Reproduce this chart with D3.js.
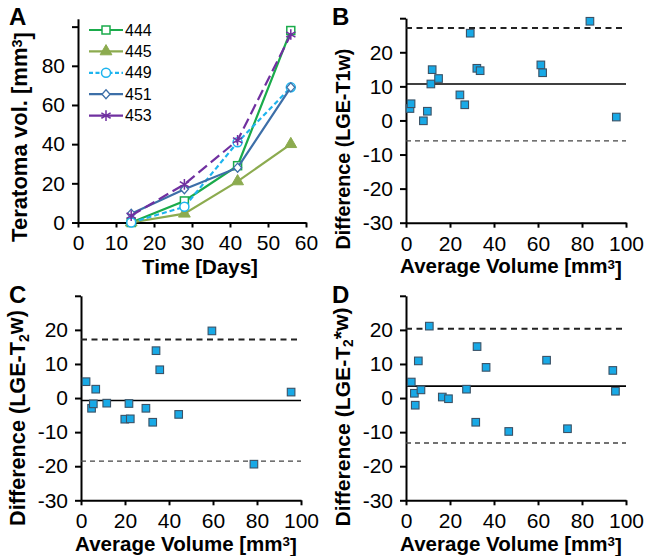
<!DOCTYPE html>
<html>
<head>
<meta charset="utf-8">
<script src="https://cdn.jsdelivr.net/npm/d3@7"></script>
<style>
  body { margin: 0; background: #fff; }
  svg { font-family: "Liberation Sans", Arial, sans-serif; }
  .axis path, .axis line { stroke: #000; stroke-width: 2; }
  .axis text { font-size: 21px; fill: #000; }
  .title { font-size: 20px; font-weight: bold; }
  .panel { font-size: 24px; font-weight: bold; }
</style>
</head>
<body>
<script>
"use strict";

// panel A: teratoma growth, days vs volume (mm3)
var days = [14, 28, 42, 56];
var mice = ["444", "445", "449", "451", "453"];
var vol444 = [0, 11, 29, 98];
var vol445 = [0, 4.5, 21, 40];
var vol449 = [0, 8, 41, 69];
var vol451 = [4.5, 17, 28, 69];
var vol453 = [3.5, 19.5, 42, 96];

// panel B: LGE - T1w
var avgB  = [1.8, 2.3, 7.9, 9.7, 11.3, 11.9, 14.8, 24.5, 26.7, 29.2, 32.2, 33.7, 61.3, 62.1, 83.6, 95.6];
var diffB = [3.5, 4.9, -0.1, 2.7, 10.7, 14.9, 12.3, 7.5, 4.6, 25.6, 15.3, 14.6, 16.3, 14.0, 29.1, 1.0];
var limB  = [10.7, 27.1, -6.0];   // mean, upper, lower

// panel C: LGE - T2w
var avgC  = [2.3, 4.8, 5.6, 6.7, 11.7, 19.9, 21.8, 22.4, 29.5, 32.6, 34.1, 35.8, 44.4, 59.5, 78.6, 95.5];
var diffC = [4.8, -3.0, -1.7, 2.6, -1.5, -6.2, -1.6, -6.1, -3.0, -7.1, 13.9, 8.3, -4.8, 19.7, -19.4, 1.75];
var limC  = [-0.7, 17.2, -18.5];

// panel D: LGE - T2*w
var avgD  = [2.4, 3.8, 4.2, 5.6, 6.8, 10.6, 16.5, 19.3, 27.5, 31.7, 32.3, 36.4, 46.7, 63.9, 73.4, 94.0, 95.2];
var diffD = [4.7, 1.4, -2.1, 10.9, 2.4, 21.1, 0.3, -0.2, 2.6, -7.1, 15.1, 9.0, -9.8, 11.1, -9.0, 8.1, 2.0];
var limD  = [3.5, 20.3, -13.2];

var timeTicks = [0, 10, 20, 30, 40, 50, 60];
var volTicks = [0, 20, 40, 60, 80, 100];
var avgTicks = [0, 20, 40, 60, 80, 100];
var diffTicks = [-30, -20, -10, 0, 10, 20, 30];

var svg = d3.select("body").append("svg")
    .attr("width", 646)
    .attr("height", 556);

// shrink/grow a title so it spans the same length as in the figure
function fit(text, len) {
  var w = text.node().getComputedTextLength();
  var fs = parseFloat(getComputedStyle(text.node()).fontSize);
  text.style("font-size", (fs * len / w) + "px");
}

// title with a raised or lowered small piece, e.g. mm^3 or T_2
function richTitle(parts) {
  var t = svg.append("text").attr("class", "title").attr("text-anchor", "middle");
  parts.forEach(function(p) {
    var ts = t.append("tspan").text(p[0]);
    if (p[1]) ts.attr("dy", p[1] + "em").style("font-size", "0.65em");
    else if (p[2]) ts.attr("dy", p[2] + "em");
  });
  return t;
}

// ---------- panel A ----------
var xA = d3.scaleLinear().domain([0, 60]).range([78, 306]);
var yA = d3.scaleLinear().domain([0, 104]).range([222.5, 18.8]);

svg.append("g")
    .attr("class", "axis")
    .attr("transform", "translate(0," + yA(0) + ")")
    .call(d3.axisBottom(xA).tickValues(timeTicks).tickSize(5).tickSizeOuter(0).tickPadding(8));

svg.append("g")
    .attr("class", "axis")
    .attr("transform", "translate(" + xA(0) + ",0)")
    .call(d3.axisLeft(yA).tickValues(volTicks).tickSize(6).tickSizeOuter(0).tickPadding(7)
      .tickFormat(function(d) { return d === 100 ? "" : String(d); }));

var seriesA = [
  {name: mice[0], values: vol444, color: "#1aab4b", dash: null, marker: "square"},
  {name: mice[1], values: vol445, color: "#8cab4f", dash: null, marker: "triangle"},
  {name: mice[2], values: vol449, color: "#1db4ee", dash: "5,3", marker: "circle"},
  {name: mice[3], values: vol451, color: "#3d6fa8", dash: null, marker: "diamond"},
  {name: mice[4], values: vol453, color: "#7030a0", dash: "11,5", marker: "asterisk"}
];

var line = d3.line()
    .x(function(d, i) { return xA(days[i]); })
    .y(function(d) { return yA(d); });

function marker(g, type, color) {
  if (type === "square") {
    g.append("rect").attr("x", -4).attr("y", -4).attr("width", 8).attr("height", 8)
      .attr("fill", "#fff").attr("stroke", color).attr("stroke-width", 1.5);
  } else if (type === "triangle") {
    g.append("path").attr("d", d3.symbol(d3.symbolTriangle, 60)())
      .attr("fill", color).attr("stroke", color).attr("stroke-width", 1);
  } else if (type === "circle") {
    g.append("circle").attr("r", 4.5)
      .attr("fill", "#fff").attr("stroke", color).attr("stroke-width", 1.5);
  } else if (type === "diamond") {
    g.append("path").attr("d", "M0,-4.5L4,0L0,4.5L-4,0Z")
      .attr("fill", "#fff").attr("stroke", color).attr("stroke-width", 1.3);
  } else {
    g.append("path").attr("d", d3.symbol(d3.symbolAsterisk, 80)())
      .attr("fill", "none").attr("stroke", color).attr("stroke-width", 1.5);
  }
}

seriesA.forEach(function(s) {
  svg.append("path")
      .datum(s.values)
      .attr("d", line)
      .attr("fill", "none")
      .attr("stroke", s.color)
      .attr("stroke-width", 2.2)
      .attr("stroke-dasharray", s.dash);
  s.values.forEach(function(v, i) {
    var g = svg.append("g").attr("transform", "translate(" + xA(days[i]) + "," + yA(v) + ")");
    marker(g, s.marker, s.color);
  });
});

// legend
var legend = svg.append("g").attr("transform", "translate(89,30)");
seriesA.forEach(function(s, i) {
  var row = legend.append("g").attr("transform", "translate(0," + (i * 21.4) + ")");
  row.append("line").attr("x1", 0).attr("x2", 34).attr("y1", 0).attr("y2", 0)
    .attr("stroke", s.color).attr("stroke-width", 2.2)
    .attr("stroke-dasharray", s.dash === "5,3" ? "4,2.5" : null);
  marker(row.append("g").attr("transform", "translate(17,0)"), s.marker, s.color);
  row.append("text").attr("x", 36).attr("y", 5.5).style("font-size", "16px").text(s.name);
});

var xtA = richTitle([["Time [Days]"]])
    .attr("x", 200).attr("y", 274);
fit(xtA, 116);

var ytA = richTitle([["Teratoma vol. [mm"], ["3", -0.35], ["]", null, 0.35]])
    .attr("transform", "translate(27,137) rotate(-90)");
fit(ytA, 210);

// ---------- Bland-Altman panels ----------
function blandAltman(opt) {
  var x = d3.scaleLinear().domain([0, 100]).range([opt.left, opt.left + 220]);
  var y = d3.scaleLinear().domain([-30, 30]).range([opt.bottom, opt.bottom - 204.5]);

  svg.append("g")
      .attr("class", "axis")
      .attr("transform", "translate(0," + y(-30) + ")")
      .call(d3.axisBottom(x).tickValues(avgTicks).tickSize(5).tickSizeOuter(0).tickPadding(8));

  svg.append("g")
      .attr("class", "axis")
      .attr("transform", "translate(" + x(0) + ",0)")
      .call(d3.axisLeft(y).tickValues(diffTicks).tickSize(6).tickSizeOuter(0).tickPadding(7)
        .tickFormat(function(d) { return d === 30 ? "" : String(d); }));

  // mean and limits of agreement
  var styles = [
    {w: 1.6, dash: null, c: "#000"},
    {w: 2, dash: "6,4.5", c: "#222"},
    {w: 1.4, dash: "5,4", c: "#444"}
  ];
  opt.lim.forEach(function(v, i) {
    svg.append("line")
        .attr("x1", x(0)).attr("x2", x(100))
        .attr("y1", y(v)).attr("y2", y(v))
        .attr("stroke", styles[i].c)
        .attr("stroke-width", styles[i].w)
        .attr("stroke-dasharray", styles[i].dash);
  });

  svg.append("g").selectAll("rect")
      .data(opt.avg)
    .enter().append("rect")
      .attr("x", function(d) { return x(d) - 3.8; })
      .attr("y", function(d, i) { return y(opt.diff[i]) - 3.8; })
      .attr("width", 7.6)
      .attr("height", 7.6)
      .attr("fill", "#18a9e6")
      .attr("stroke", "#3b5266")
      .attr("stroke-width", 1.1);

  var xt = richTitle([["Average Volume [mm"], ["3", -0.35], ["]", null, 0.35]])
      .attr("x", opt.left + 105).attr("y", opt.bottom + 50.5);
  fit(xt, 222);

  var yparts = opt.sub
    ? [["Difference (LGE-T"], [opt.sub, 0.25], [opt.rest, null, -0.25]]
    : [["Difference (LGE-T" + opt.rest]];
  var yt = richTitle(yparts)
      .attr("transform", "translate(" + (opt.left - 56) + "," + opt.mid + ") rotate(-90)");
  fit(yt, opt.len);
}

blandAltman({left: 406, bottom: 222.7, mid: 149, len: 201, avg: avgB, diff: diffB, lim: limB, sub: null, rest: "1w)"});
blandAltman({left: 81, bottom: 500.3, mid: 418, len: 216, avg: avgC, diff: diffC, lim: limC, sub: "2", rest: "w)"});
blandAltman({left: 406, bottom: 500.3, mid: 417, len: 219, avg: avgD, diff: diffD, lim: limD, sub: "2", rest: "*w)"});

// panel letters
[["A", 9, 25], ["B", 332, 25], ["C", 9, 303], ["D", 332, 303]].forEach(function(p) {
  svg.append("text").attr("class", "panel").attr("x", p[1]).attr("y", p[2]).text(p[0]);
});
</script>
</body>
</html>
